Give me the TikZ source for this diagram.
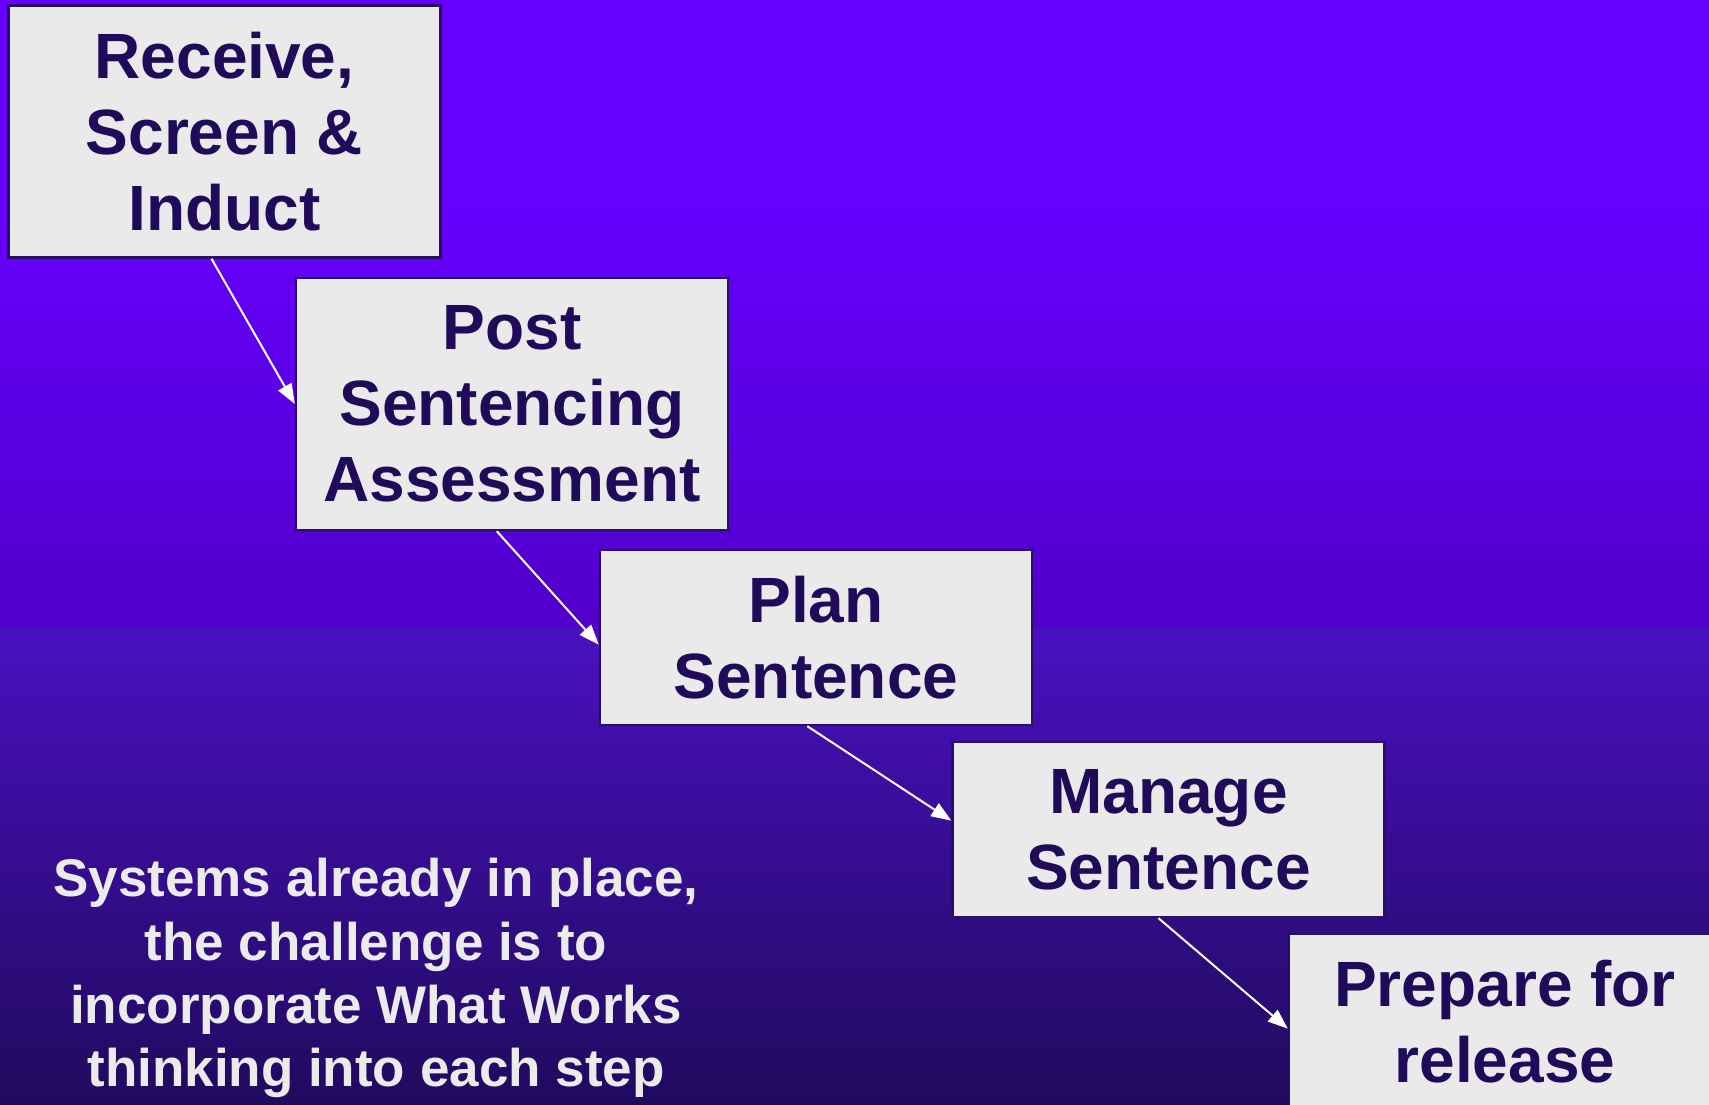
\documentclass[tikz,border=0pt]{standalone}
\usepackage{fontspec}
\setmainfont{Liberation Sans}
\usetikzlibrary{calc,arrows.meta}
\definecolor{bgtop}{HTML}{6600FF}
\definecolor{bgmid}{HTML}{5000CA}
\definecolor{bgmidb}{HTML}{4A10C0}
\definecolor{bgbot}{HTML}{200A5E}
\definecolor{boxfill}{HTML}{EAEAEA}
\definecolor{boxline}{HTML}{2A1060}
\definecolor{boxtext}{HTML}{200A5A}
\definecolor{notetext}{HTML}{EBEBEB}
\tikzset{
  stepbox/.style={draw=boxline, line width=1.2pt, fill=boxfill, rectangle,
    minimum width=216pt, text=boxtext, align=center, inner sep=0pt,
    font=\fontsize{32}{38}\selectfont\bfseries},
  flow/.style={draw=white, line width=1pt, -{Triangle[length=10pt,width=7.5pt]}},
  note/.style={text=notetext, align=center, inner sep=0pt,
    font=\fontsize{26.5}{31.6}\selectfont\bfseries}
}
\begin{document}
\begin{tikzpicture}[x=0.5pt,y=-0.5pt]
\useasboundingbox (0,0) rectangle (1709,1104);
\fill[bgtop] (0,0) rectangle (1709,200);
\shade[top color=bgtop, bottom color=bgmid] (0,199) rectangle (1709,628);
\shade[top color=bgmidb, bottom color=bgbot] (0,627) rectangle (1709,1104);

\node[stepbox, minimum height=126pt] (b1) at (224.5,131.5) {Receive,\\Screen \&\\Induct};
\node[stepbox, minimum height=126pt] (b2) at (512,404) {Post\\Sentencing\\Assessment};
\node[stepbox, minimum height=87.5pt] (b3) at (816,637.5) {Plan\\Sentence};
\node[stepbox, minimum height=87.5pt] (b4) at (1168.5,829.5) {Manage\\Sentence};
\node[stepbox, minimum height=87.5pt] (b5) at (1505,1021.5) {Prepare for\\release};

\node[note] (n) at (376,978) {Systems already in place,\\the challenge is to\\incorporate What Works\\thinking into each step};

\draw[flow] ($(b1.south west)!0.47!(b1.south east)$) -- ($(b2.north west)!0.5!(b2.south west)$);
\draw[flow] ($(b2.south west)!0.465!(b2.south east)$) -- ($(b3.north west)!0.54!(b3.south west)$);
\draw[flow] ($(b3.south west)!0.48!(b3.south east)$) -- ($(b4.north west)!0.45!(b4.south west)$);
\draw[flow] ($(b4.south west)!0.477!(b4.south east)$) -- ($(b5.north west)!0.54!(b5.south west)$);
\end{tikzpicture}
\end{document}
